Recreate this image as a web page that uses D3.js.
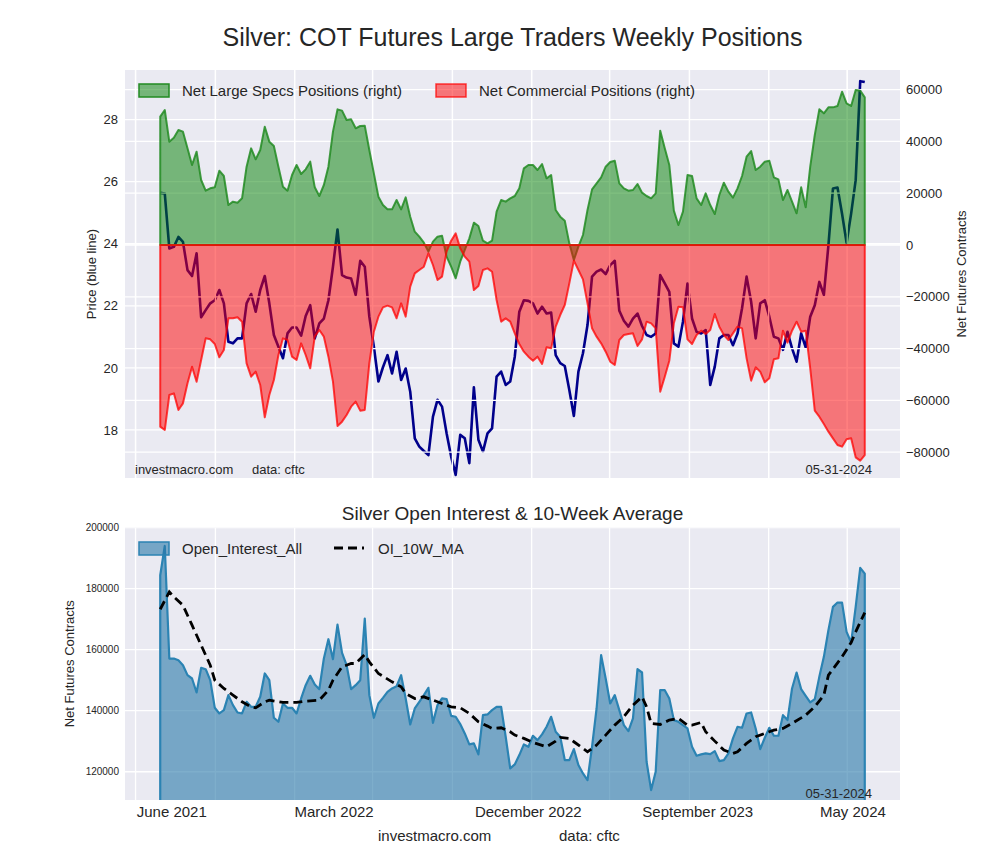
<!DOCTYPE html>
<html><head><meta charset="utf-8">
<script src="https://cdn.jsdelivr.net/npm/d3@7"></script>
<style>
body{margin:0;background:#fff;}
text{font-family:"Liberation Sans",Arial,Helvetica,sans-serif;fill:#262626;}
</style></head>
<body><svg id="c" width="1000" height="860"></svg>
<script>
// ---------------- data ----------------
const startDate = "2021-06-08"; // first weekly report (Tuesday)
const priceValues = [
25.64,25.62,23.85,23.90,24.22,24.06,23.15,22.96,23.69,21.63,
21.86,22.08,22.18,22.51,22.08,20.84,20.79,20.95,20.95,22.08,
22.38,21.81,22.51,22.96,22.08,21.06,20.68,20.31,21.11,21.30,
21.30,21.04,21.67,22.02,20.95,21.43,21.59,22.18,23.26,24.46,
22.99,22.91,22.88,22.35,23.45,23.26,21.65,20.68,19.56,20.02,
20.41,19.82,20.52,19.61,19.98,19.23,17.73,17.46,17.32,17.19,
18.43,18.97,18.75,17.89,17.14,16.55,17.84,17.73,16.93,19.37,
17.68,17.30,17.89,18.05,19.72,19.88,19.45,19.56,20.36,21.81,
22.18,22.16,22.08,21.75,21.97,21.75,21.78,20.41,20.15,20.06,
19.29,18.45,19.88,20.47,21.38,22.94,23.10,23.17,23.02,23.31,
23.45,21.84,21.52,21.33,21.59,21.75,21.35,21.06,21.00,21.11,
22.99,22.72,22.45,20.79,20.68,21.49,22.72,21.59,21.16,21.11,
21.22,19.45,20.04,20.95,21.06,21.06,20.73,21.11,21.92,22.94,
22.13,20.95,22.08,22.18,21.65,21.00,20.95,20.58,21.16,20.63,
20.20,21.11,20.66,21.65,22.02,22.77,22.35,23.95,25.78,25.81,
24.97,24.03,24.97,26.05,29.24,29.21];

const netLargeSpecs = [
49550,52120,39900,41440,44400,43760,37320,30890,36040,25100,
20980,21880,22270,28700,26640,15440,16730,16340,18020,30240,
37320,33080,36680,45690,39900,38220,30240,22520,20980,27030,
30890,27410,29210,32180,22270,18920,23170,30240,43760,52380,
51870,48260,48520,45050,45950,46070,36680,27670,18660,15440,
13770,13770,17370,13770,18400,10940,5150,3220,900,-2570,
1290,3220,3600,-4500,-8370,-12870,-6440,-1930,2570,8620,
7340,1670,640,1670,12870,17370,16730,18020,18920,21880,
29600,30890,30890,28960,31270,25740,27030,13510,10940,9400,
640,-5790,-640,3860,13510,21490,23810,26130,30240,32050,
32560,23810,21880,20980,21240,23550,20210,18920,18020,19950,
44140,37320,30890,13260,7720,12870,27030,26640,18020,15440,
19950,15440,11970,19310,24070,20590,18280,21880,26640,34110,
36290,28960,30240,32180,32560,26130,25350,17370,21240,16730,
12230,22270,14540,30240,42470,52380,50840,53150,53150,53670,
59200,54700,53670,59850,59590,57010];

const netCommercial = [
-70140,-71430,-57920,-57270,-63710,-61130,-53410,-46980,-52770,-44400,
-36040,-36420,-38220,-43370,-40540,-28310,-28310,-27930,-29600,-45690,
-50840,-48910,-54050,-66540,-57920,-52120,-42470,-36040,-36680,-43110,
-44400,-37970,-42470,-47620,-35390,-32820,-35390,-43110,-52770,-69880,
-68210,-65640,-62420,-60490,-63960,-63710,-45690,-33460,-27670,-24070,
-23420,-24070,-28310,-22520,-27670,-16090,-10940,-9650,-8370,-3220,
-7720,-13510,-12230,-2570,1670,4500,-1290,-4500,-6440,-17370,
-15830,-9650,-9010,-10300,-21240,-29600,-28310,-29600,-34110,-38220,
-41180,-43110,-44660,-43110,-45950,-39510,-39900,-31530,-27030,-23170,
-14800,-6050,-9650,-13260,-22520,-32180,-35390,-37970,-41180,-45050,
-46330,-36680,-34750,-34360,-34110,-39000,-36420,-29600,-30240,-32180,
-56630,-50840,-44660,-30240,-23810,-24070,-36420,-38220,-34750,-33080,
-34360,-32820,-26640,-31530,-34750,-36680,-34110,-31530,-32180,-43760,
-52380,-47230,-48910,-53020,-51480,-44140,-43760,-33080,-37710,-33080,
-29600,-33460,-33080,-47620,-63960,-66280,-69110,-72070,-74650,-77220,
-77860,-75030,-74650,-81980,-83270,-81080];

const openInterest = [
184350,193950,157080,157080,156500,154900,151630,150540,145960,154030,
153590,149990,140940,139090,140180,145090,141810,139410,139090,142900,
141270,141270,144540,152180,149990,137670,136360,142360,140940,140940,
139090,144000,148360,151410,148580,147050,157080,163410,156870,168210,
158940,154900,147050,148360,150000,170170,145090,137670,142360,144210,
146180,147270,148030,151630,144000,135490,140720,142900,145090,147490,
136030,141810,144000,143780,138320,138000,135600,132540,128940,129270,
125670,138540,138760,140180,141270,141270,131450,121090,122400,125450,
128940,128180,131780,130360,132220,134720,138000,133090,131450,123820,
123820,127420,122180,119450,117270,128180,140720,158170,150540,142360,
145090,140180,135270,133310,137450,153590,152500,123270,114000,120000,
146720,146720,144000,136910,136360,135270,134180,128180,125240,125670,
126000,125780,126760,123490,123820,126000,130910,134720,134400,139090,
139410,134180,127420,131130,134400,131780,131780,138540,136910,147270,
152500,147050,144870,142690,143780,151080,157630,166350,173990,175410,
175410,165810,162320,173990,186750,184900];

// 10-week moving average, read at these week numbers
const maWeek = [0,2,3,5,7,9,11,12,14,16,18,20,21,23,24,27,30,32,35,37,38,40,42,43,45,46,48,51,53,54,56,58,60,62,64,66,68,70,72,73,75,77,
78,80,82,85,87,88,90,91,93,94,96,98,100,102,104,106,107,108,110,112,114,116,117,119,120,122,124,126,127,129,131,134,135,137,139,142,144,146,147,150,152,153,155];
const maValues = [173230,178900,177260,174540,168000,161450,154900,149990,147270,145090,142900,141270,140940,142900,143450,142690,142690,143120,143450,146720,149990,154360,155450,155450,158390,155990,152180,149450,147810,145630,144000,144540,143450,142360,141270,140940,139090,136360,134940,134180,134400,133090,
132000,130910,129600,128180,130030,131230,130910,129820,127640,126540,128730,132000,135270,138000,141810,144540,141270,135820,135490,136910,137450,135270,135270,136140,133090,130030,127090,126000,126540,129270,131450,133090,133630,134180,135820,138540,141270,145090,151630,157630,162320,165810,172140];

const priceTicks = [18,20,22,24,26,28];
const positionTicks = [-80000,-60000,-40000,-20000,0,20000,40000,60000];
const oiTicks = [120000,140000,160000,180000,200000];
const gridDates = ["2021-05-01","2021-09-01","2022-01-01","2022-05-01","2022-09-01","2023-01-01","2023-05-01","2023-09-01","2024-01-01","2024-05-01"];
const xLabelDates = ["2021-06-25","2022-03-02","2022-12-26","2023-09-13","2024-05-09"];
const xLabels = ["June 2021","March 2022","December 2022","September 2023","May 2024"];
const priceDomain = [16.45, 29.6];
const positionDomain = [-89960, 67570];
const oiDomain = [110740, 200000];

// ---------------- layout ----------------
const svg = d3.select("#c");
const L = 125, R = 900, T1 = 70, B1 = 478, T2 = 527.5, B2 = 800;
const BG = "#EAEAF2";
const parse = d3.utcParse("%Y-%m-%d");
const d0 = parse(startDate);
const dates = priceValues.map((_, i) => d3.utcDay.offset(d0, 7 * i));
const span = dates[dates.length - 1] - dates[0];
const x = d3.scaleUtc()
  .domain([new Date(+dates[0] - 0.05 * span), new Date(+dates[dates.length - 1] + 0.05 * span)])
  .range([L, R]);
const yP = d3.scaleLinear().domain(priceDomain).range([B1, T1]);
const yN = d3.scaleLinear().domain(positionDomain).range([B1, T1]);
const yO = d3.scaleLinear().domain(oiDomain).range([B2, T2]);

svg.append("rect").attr("width", 1000).attr("height", 860).attr("fill", "#fff");
svg.append("rect").attr("x", L).attr("y", T1).attr("width", R - L).attr("height", B1 - T1).attr("fill", BG);
svg.append("rect").attr("x", L).attr("y", T2).attr("width", R - L).attr("height", B2 - T2).attr("fill", BG);

const defs = svg.append("defs");
defs.append("clipPath").attr("id", "ct").append("rect").attr("x", L).attr("y", T1).attr("width", R - L).attr("height", B1 - T1);
defs.append("clipPath").attr("id", "cb").append("rect").attr("x", L).attr("y", T2).attr("width", R - L).attr("height", B2 - T2);

function vGrid(g, top, bot) {
  g.append("g").selectAll("line").data(gridDates).join("line")
    .attr("x1", d => x(parse(d))).attr("x2", d => x(parse(d)))
    .attr("y1", top).attr("y2", bot)
    .attr("stroke", "#fff").attr("stroke-width", 1.3);
}
function hGrid(g, ticks, scale) {
  g.append("g").selectAll("line").data(ticks).join("line")
    .attr("x1", L).attr("x2", R)
    .attr("y1", d => scale(d)).attr("y2", d => scale(d))
    .attr("stroke", "#fff").attr("stroke-width", 1.3);
}

// ---------------- top chart ----------------
const gT = svg.append("g").attr("clip-path", "url(#ct)");
vGrid(gT, T1, B1);
hGrid(gT, priceTicks, yP);
gT.append("path").datum(priceValues)
  .attr("d", d3.line().x((d, i) => x(dates[i])).y(d => yP(d)))
  .attr("fill", "none").attr("stroke", "#00008B").attr("stroke-width", 2.6).attr("stroke-linejoin", "round");
vGrid(gT, T1, B1);
hGrid(gT, positionTicks, yN);

const areaN = d3.area().x((d, i) => x(dates[i])).y0(yN(0)).y1(d => yN(d));
gT.append("path").attr("d", areaN(netLargeSpecs))
  .attr("fill", "green").attr("fill-opacity", 0.5)
  .attr("stroke", "#228B22").attr("stroke-opacity", 0.85).attr("stroke-width", 2).attr("stroke-linejoin", "round");
gT.append("path").attr("d", areaN(netCommercial))
  .attr("fill", "red").attr("fill-opacity", 0.5)
  .attr("stroke", "red").attr("stroke-opacity", 0.75).attr("stroke-width", 2).attr("stroke-linejoin", "round");

// axes top
const axL = svg.append("g").attr("transform", `translate(${L},0)`)
  .call(d3.axisLeft(yP).tickValues(priceTicks).tickSize(0).tickPadding(7).tickFormat(d3.format("d")));
const axR = svg.append("g").attr("transform", `translate(${R},0)`)
  .call(d3.axisRight(yN).tickValues(positionTicks).tickSize(0).tickPadding(6).tickFormat(d3.format("d")));
[axL, axR].forEach(a => { a.select(".domain").remove(); a.selectAll("text").attr("font-size", 13).attr("fill", "#262626").style("font-family", "Liberation Sans, Arial, sans-serif"); });

svg.append("text").attr("transform", `translate(96,${(T1 + B1) / 2}) rotate(-90)`)
  .attr("text-anchor", "middle").attr("font-size", 13).text("Price (blue line)");
svg.append("text").attr("transform", `translate(966,${(T1 + B1) / 2}) rotate(-90)`)
  .attr("text-anchor", "middle").attr("font-size", 13).text("Net Futures Contracts");

// legend top
const lg = svg.append("g");
lg.append("rect").attr("x", 139).attr("y", 84).attr("width", 30).attr("height", 13)
  .attr("fill", "green").attr("fill-opacity", 0.5).attr("stroke", "#228B22").attr("stroke-width", 1.5);
lg.append("text").attr("x", 182).attr("y", 96).attr("font-size", 15).text("Net Large Specs Positions (right)");
lg.append("rect").attr("x", 436).attr("y", 84).attr("width", 30).attr("height", 13)
  .attr("fill", "red").attr("fill-opacity", 0.5).attr("stroke", "red").attr("stroke-opacity", 0.75).attr("stroke-width", 1.5);
lg.append("text").attr("x", 479).attr("y", 96).attr("font-size", 15).text("Net Commercial Positions (right)");

svg.append("text").attr("x", 135).attr("y", 474).attr("font-size", 13).attr("fill", "#111").text("investmacro.com");
svg.append("text").attr("x", 252).attr("y", 474).attr("font-size", 13).attr("fill", "#111").text("data: cftc");
svg.append("text").attr("x", 872).attr("y", 474).attr("text-anchor", "end").attr("font-size", 13).attr("fill", "#111").text("05-31-2024");

svg.append("text").attr("x", (L + R) / 2).attr("y", 46).attr("text-anchor", "middle").attr("font-size", 25).attr("fill", "#111")
  .text("Silver: COT Futures Large Traders Weekly Positions");

// ---------------- bottom chart ----------------
svg.append("text").attr("x", (L + R) / 2).attr("y", 520).attr("text-anchor", "middle").attr("font-size", 19).text("Silver Open Interest & 10-Week Average");
const gB = svg.append("g").attr("clip-path", "url(#cb)");
vGrid(gB, T2, B2);
hGrid(gB, oiTicks, yO);
gB.append("path").attr("d", d3.area().x((d, i) => x(dates[i])).y0(yO(0)).y1(d => yO(d))(openInterest))
  .attr("fill", "#2878a8").attr("fill-opacity", 0.6)
  .attr("stroke", "#2b83b3").attr("stroke-width", 2.2).attr("stroke-linejoin", "round");
gB.append("path").datum(maValues)
  .attr("d", d3.line().x((d, i) => x(dates[maWeek[i]])).y(d => yO(d)))
  .attr("fill", "none").attr("stroke", "#000").attr("stroke-width", 2.8).attr("stroke-dasharray", "9,5");

const axB = svg.append("g").attr("transform", `translate(${L},0)`)
  .call(d3.axisLeft(yO).tickValues(oiTicks).tickSize(0).tickPadding(6).tickFormat(d3.format("d")));
axB.select(".domain").remove();
axB.selectAll("text").attr("font-size", 10).attr("fill", "#262626").style("font-family", "Liberation Sans, Arial, sans-serif");

const axX = svg.append("g").attr("transform", `translate(0,${B2})`)
  .call(d3.axisBottom(x).tickValues(xLabelDates.map(parse)).tickSize(0).tickPadding(6).tickFormat((d, i) => xLabels[i]));
axX.select(".domain").remove();
axX.selectAll("text").attr("font-size", 15).attr("fill", "#111").style("font-family", "Liberation Sans, Arial, sans-serif");

svg.append("text").attr("transform", `translate(74,${(T2 + B2) / 2}) rotate(-90)`)
  .attr("text-anchor", "middle").attr("font-size", 13).text("Net Futures Contracts");

const lb = svg.append("g");
lb.append("rect").attr("x", 139).attr("y", 542).attr("width", 30).attr("height", 13)
  .attr("fill", "#2878a8").attr("fill-opacity", 0.6).attr("stroke", "#2b83b3").attr("stroke-width", 1.5);
lb.append("text").attr("x", 182).attr("y", 554).attr("font-size", 15).text("Open_Interest_All");
lb.append("line").attr("x1", 334).attr("x2", 364).attr("y1", 548).attr("y2", 548)
  .attr("stroke", "#000").attr("stroke-width", 2.8).attr("stroke-dasharray", "9,5");
lb.append("text").attr("x", 378).attr("y", 554).attr("font-size", 15).text("OI_10W_MA");

svg.append("text").attr("x", 872).attr("y", 798).attr("text-anchor", "end").attr("font-size", 13).attr("fill", "#111").text("05-31-2024");
svg.append("text").attr("x", 378).attr("y", 841).attr("font-size", 15).attr("fill", "#111").text("investmacro.com");
svg.append("text").attr("x", 559).attr("y", 841).attr("font-size", 15).attr("fill", "#111").text("data: cftc");
</script>
</body></html>
